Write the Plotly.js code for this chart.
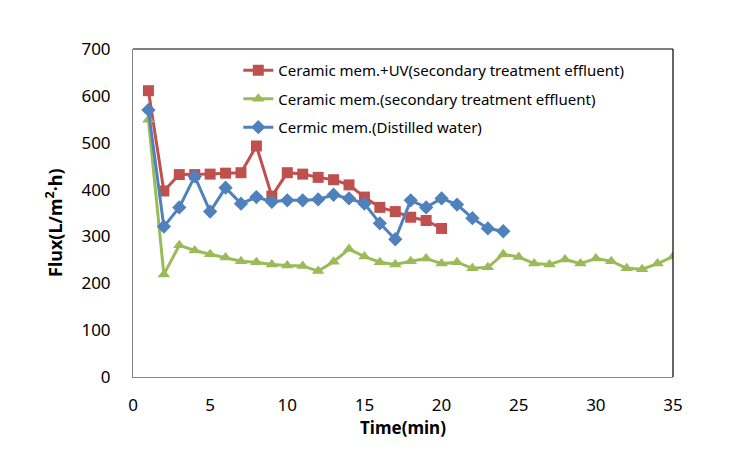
<!DOCTYPE html>
<html>
<head>
<meta charset="utf-8">
<script src="https://cdn.plot.ly/plotly-3.0.1.min.js"></script>
<style>html,body{margin:0;padding:0;background:#fff;}#chart{width:732px;height:451px;}</style>
</head>
<body>
<div id="chart"></div>
<script>
var timeRed = [1,2,3,4,5,6,7,8,9,10,11,12,13,14,15,16,17,18,19,20];
var fluxRed = [611,397,432,432,433,435,436,493,386,436,433,426,421,410,384,362,353,341,334,317];

var timeGreen = [1,2,3,4,5,6,7,8,9,10,11,12,13,14,15,16,17,18,19,20,21,22,23,24,25,26,27,28,29,30,31,32,33,34,35];
var fluxGreen = [549,219,281,270,262,255,247,245,240,238,237,226,246,273,257,245,240,247,253,242,245,232,234,262,256,242,240,251,242,253,247,232,230,242,257];

var timeBlue = [1,2,3,4,5,6,7,8,9,10,11,12,13,14,15,16,17,18,19,20,21,22,23,24];
var fluxBlue = [570,321,362,428,353,404,370,384,374,377,377,379,389,381,370,328,294,377,362,381,368,339,317,311];

var names = [
  "Ceramic mem.+UV(secondary treatment effluent)",
  "Ceramic mem.(secondary treatment effluent)",
  "Cermic mem.(Distilled water)"
];
var xTitle = "Time(min)";
var yTitle = "Flux(L/m<sup>2</sup>·h)";
var xTicks = [0,5,10,15,20,25,30,35];
var yTicks = [0,100,200,300,400,500,600,700];

var red = "#C0504D", green = "#9BBB59", blue = "#4F81BD";

var traces = [
  {x: timeRed, y: fluxRed, name: names[0], legendgroup: "a", type: "scatter", mode: "lines+markers",
   line: {color: red, width: 3}, marker: {symbol: "square", size: 11, color: red}},
  {x: timeGreen, y: fluxGreen, name: names[1], legendgroup: "b", type: "scatter", mode: "lines+markers",
   line: {color: green, width: 3}, marker: {symbol: "triangle-up", size: 11, color: green}},
  {x: timeBlue, y: fluxBlue, name: names[2], legendgroup: "c", type: "scatter", mode: "lines+markers",
   line: {color: blue, width: 3}, marker: {symbol: "diamond", size: 11, color: blue}}
];

var font = "'Noto Sans', 'Open Sans', sans-serif";
var layout = {
  width: 732, height: 451,
  margin: {l: 133, r: 59, t: 49, b: 74, pad: 0},
  paper_bgcolor: "#fff", plot_bgcolor: "#fff",
  font: {family: font, size: 15, color: "#000"},
  showlegend: true,
  legend: {x: 0.195, y: 0.985, xanchor: "left", yanchor: "top", bgcolor: "rgba(0,0,0,0)",
           font: {family: font, size: 15, color: "#000"}, traceorder: "grouped", tracegroupgap: 6, itemwidth: 30},
  xaxis: {range: [0, 35], tickvals: xTicks, ticktext: xTicks.map(String), showgrid: false, zeroline: false,
          showline: true, linecolor: "#868686", linewidth: 1, ticks: "", ticklabelstandoff: 13,
          tickfont: {size: 17},
          title: {text: "<b>" + xTitle + "</b>", font: {size: 17}, standoff: 6}},
  yaxis: {range: [0, 700], tickvals: yTicks, ticktext: yTicks.map(String), showgrid: false, zeroline: false,
          showline: true, linecolor: "#868686", linewidth: 1, ticks: "", ticklabelstandoff: 18,
          tickfont: {size: 17}},
  annotations: [
    {text: "<b>" + yTitle + "</b>", xref: "paper", yref: "paper", x: -0.146, y: 0.47,
     xanchor: "center", yanchor: "middle", textangle: -90, showarrow: false, font: {size: 18, color: "#000"}}
  ],
  shapes: [
    {type: "line", xref: "paper", yref: "paper", x0: 0, x1: 1, y0: 1, y1: 1, line: {color: "#000", width: 1.2}},
    {type: "line", xref: "paper", yref: "paper", x0: 1, x1: 1, y0: 0, y1: 1, line: {color: "#000", width: 1.2}}
  ]
};

Plotly.newPlot("chart", traces, layout, {displayModeBar: false, staticPlot: true});
</script>
</body>
</html>
